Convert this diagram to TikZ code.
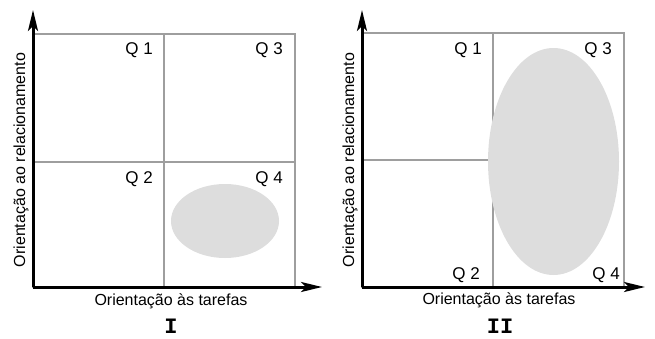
\documentclass[tikz,border=0pt]{standalone}
\usepackage{fontspec}
\setmainfont{Liberation Sans}
\newfontfamily\monofont{Liberation Mono}
\usetikzlibrary{arrows.meta}
\definecolor{gridgray}{HTML}{9E9E9E}
\definecolor{blobgray}{HTML}{DDDDDD}
\tikzset{
  axisline/.style={line width=3pt, black, -{Stealth[length=21pt,width=10pt,inset=5pt]}},
  gridline/.style={line width=1.3pt, gridgray},
  qlabel/.style={anchor=east, inner sep=0pt, font=\fontsize{17}{17}\selectfont},
  axlabel/.style={inner sep=0pt, font=\fontsize{16}{16}\selectfont},
  panellabel/.style={inner sep=0pt, font=\fontsize{22}{22}\selectfont\monofont\bfseries},
  blob/.style={fill=blobgray, draw=none}
}
\begin{document}
\begin{tikzpicture}[x=1pt,y=-1pt]
\useasboundingbox (0,0) rectangle (655,338);
% ---------- Panel I ----------
\coordinate (oA) at (33,287);
\coordinate (yA) at (33,10);
\coordinate (xA) at (322,287);
\draw[gridline] (33,34) rectangle (295,287);
\draw[gridline] (164,34) -- (164,287);
\draw[gridline] (33,162) -- (295,162);
\fill[blob] (225,221) ellipse [x radius=54, y radius=37];
\node[qlabel] (a1) at (153,50) {Q 1};
\node[qlabel] (a3) at (283,50) {Q 3};
\node[qlabel] (a2) at (153,179) {Q 2};
\node[qlabel] (a4) at (283,179) {Q 4};
\draw[axisline] (oA) -- (yA);
\draw[axisline] (oA) -- (xA);
\node[axlabel] (xlA) at (171,301) {Orientação às tarefas};
\node[axlabel, rotate=90] (ylA) at (21,160) {Orientação ao relacionamento};
\node[panellabel] (pA) at (171,326) {I};
% ---------- Panel II ----------
\coordinate (oB) at (362,287);
\coordinate (yB) at (362,10);
\coordinate (xB) at (645,287);
\draw[gridline] (362,33) rectangle (624,287);
\draw[gridline] (493,33) -- (493,287);
\draw[gridline] (362,160) -- (493,160);
\fill[blob] (553.5,161.5) ellipse [x radius=65.5, y radius=113.5];
\node[qlabel] (b1) at (482,50) {Q 1};
\node[qlabel] (b3) at (612,50) {Q 3};
\node[qlabel] (b2) at (480,275) {Q 2};
\node[qlabel] (b4) at (620,275) {Q 4};
\draw[axisline] (oB) -- (yB);
\draw[axisline] (oB) -- (xB);
\node[axlabel] (xlB) at (499,300) {Orientação às tarefas};
\node[axlabel, rotate=90] (ylB) at (350,160) {Orientação ao relacionamento};
\node[panellabel] (pB) at (500,326) {II};
\end{tikzpicture}
\end{document}
